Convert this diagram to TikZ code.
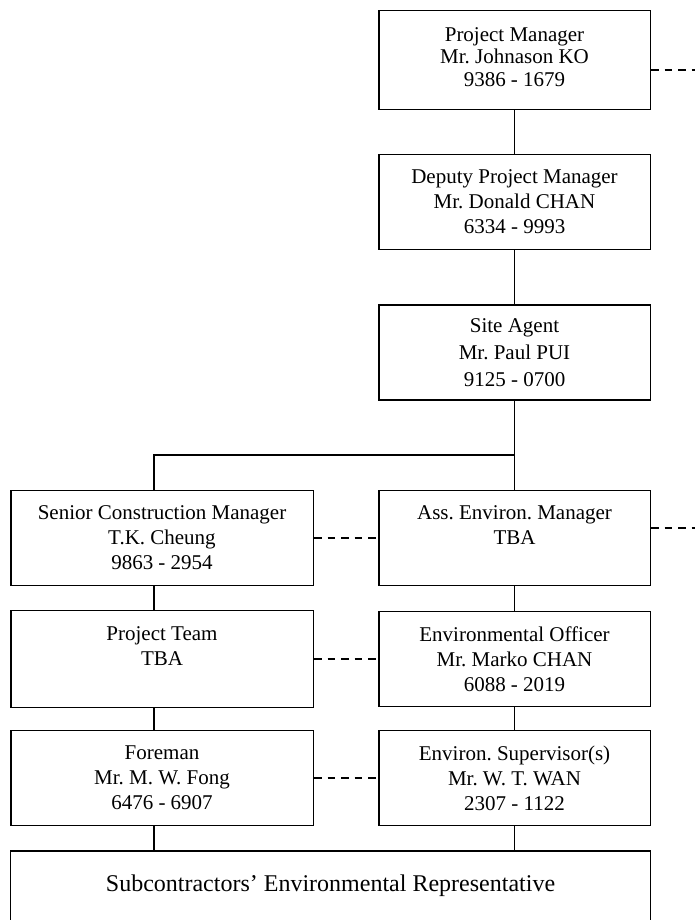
\documentclass[tikz,border=0pt]{standalone}
\usepackage{fontspec}
\setmainfont{Liberation Serif}
\usepackage{tikz}

\begin{document}
\begin{tikzpicture}[x=1pt, y=-1pt,
    unit/.style={draw, line width=1.5pt, align=center, inner sep=0pt,
        font=\fontsize{21}{25}\selectfont\frenchspacing},
    rcol/.style={unit, minimum width=271.5, minimum height=95},
    lcol/.style={unit, minimum width=302.5, minimum height=95},
    link/.style={line width=1.5pt},
    dotlink/.style={line width=1.4pt, dash pattern=on 7.5pt off 6pt}]
        \useasboundingbox (0,0) rectangle (695,920);
        % right column
        \node[rcol, minimum height=99, font=\fontsize{21}{22.5}\selectfont\frenchspacing] (pm) at (514.5,60)
            {Project Manager\\Mr. Johnason KO\\9386 - 1679\\[-16pt]\mbox{}};
        \node[rcol] (dpm) at (514.5,202)
            {Deputy Project Manager\\Mr. Donald CHAN\\6334 - 9993};
        \node[rcol, font=\fontsize{21}{27}\selectfont\frenchspacing] (sa) at (514.5,352.5)
            {Site Agent\\Mr. Paul PUI\\9125 - 0700};
        \node[rcol] (aem) at (514.5,538)
            {Ass. Environ. Manager\\TBA\\\mbox{}};
        \node[rcol] (eo) at (514.5,659)
            {Environmental Officer\\Mr. Marko CHAN\\6088 - 2019};
        \node[rcol] (es) at (514.5,778)
            {Environ. Supervisor(s)\\Mr. W. T. WAN\\2307 - 1122};
        % left column
        \node[lcol] (scm) at (162,538)
            {Senior Construction Manager\\T.K. Cheung\\9863 - 2954};
        \node[lcol, minimum height=97] (pt) at (162,659)
            {Project Team\\TBA\\\mbox{}};
        \node[lcol] (fm) at (162,778)
            {Foreman\\Mr. M. W. Fong\\6476 - 6907};
        \node[unit, minimum width=640, minimum height=70, font=\fontsize{24}{25}\selectfont] (sub) at (330.5,886)
            {Subcontractors’ Environmental Representative};

        \coordinate (split) at (514.5,455);
        \coordinate (lx) at (154,455);
        \coordinate (pmout) at (695,70);
        \coordinate (aemout) at (695,528);

        \draw[link] (pm) -- (dpm);
        \draw[link] (dpm) -- (sa);
        \draw[link] (sa) -- (split) -- (lx) -- (scm.north -| lx);
        \draw[link] (split) -- (aem);
        \draw[link] (aem) -- (eo);
        \draw[link] (eo) -- (es);
        \draw[link] (es.south) -- (es.south |- sub.north);
        \draw[link] (scm.south -| lx) -- (pt.north -| lx);
        \draw[link] (pt.south -| lx) -- (fm.north -| lx);
        \draw[link] (fm.south -| lx) -- (sub.north -| lx);

        \draw[dotlink] (pm.east |- pmout) -- (pmout);
        \draw[dotlink] (aem.east |- aemout) -- (aemout);
        \draw[dotlink] (scm) -- (aem);
        \draw[dotlink] (pt) -- (eo);
        \draw[dotlink] (fm) -- (es);
\end{tikzpicture}
\end{document}
